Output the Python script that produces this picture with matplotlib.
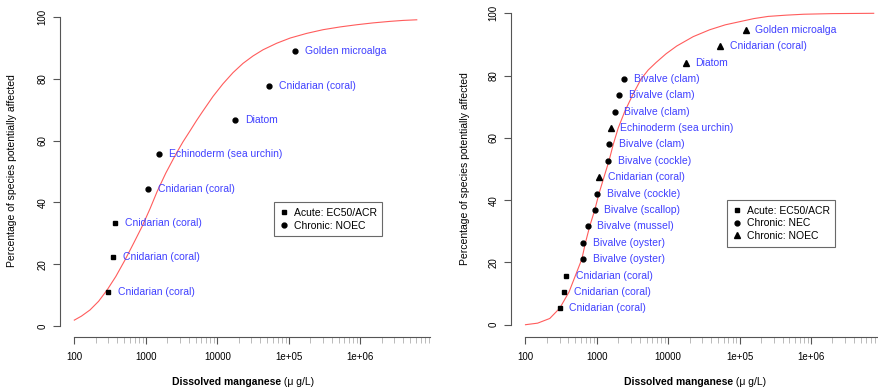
import numpy as np
import matplotlib.pyplot as plt
from matplotlib.lines import Line2D

plt.rcParams['font.family'] = ['Liberation Sans', 'DejaVu Sans']

# left panel (acute + chronic NOEC)
names_l = ['Cnidarian (coral)', 'Cnidarian (coral)', 'Cnidarian (coral)', 'Cnidarian (coral)',
           'Echinoderm (sea urchin)', 'Diatom', 'Cnidarian (coral)', 'Golden microalga']
conc_l = [300, 350, 370, 1080, 1550, 17700, 53300, 122000]
kind_l = ['acute', 'acute', 'acute', 'noec', 'noec', 'noec', 'noec', 'noec']
pct_l = [11.1, 22.2, 33.3, 44.4, 55.6, 66.7, 77.8, 88.9]

# fitted curve (log10 conc, %)
curve_logx_l = [2.00, 2.10, 2.22, 2.34, 2.46, 2.58, 2.71, 2.83, 2.95, 3.06, 3.16, 3.28, 3.42,
                3.52, 3.62, 3.71, 3.80, 3.94, 4.08, 4.22, 4.36, 4.50, 4.64, 4.83, 5.02, 5.25,
                5.48, 5.72, 5.95, 6.18, 6.42, 6.60, 6.79]
curve_pct_l = [1.9, 3.2, 5.2, 8.0, 11.7, 16.0, 21.4, 26.8, 32.3, 38.0, 43.6, 49.5, 55.6,
               59.6, 63.2, 66.5, 69.6, 74.3, 78.4, 82.0, 85.0, 87.4, 89.4, 91.5, 93.2, 94.7,
               95.9, 96.8, 97.5, 98.1, 98.6, 98.9, 99.1]

# right panel (acute + chronic NEC + chronic NOEC)
names_r = ['Cnidarian (coral)', 'Cnidarian (coral)', 'Cnidarian (coral)', 'Bivalve (oyster)',
           'Bivalve (oyster)', 'Bivalve (mussel)', 'Bivalve (scallop)', 'Bivalve (cockle)',
           'Cnidarian (coral)', 'Bivalve (cockle)', 'Bivalve (clam)', 'Echinoderm (sea urchin)',
           'Bivalve (clam)', 'Bivalve (clam)', 'Bivalve (clam)', 'Diatom', 'Cnidarian (coral)',
           'Golden microalga']
conc_r = [300, 350, 370, 640, 640, 740, 935, 1020, 1060, 1430, 1490, 1560, 1770, 2050, 2400,
          17700, 53600, 122000]
kind_r = ['acute', 'acute', 'acute', 'nec', 'nec', 'nec', 'nec', 'nec', 'noec', 'nec', 'nec',
          'noec', 'nec', 'nec', 'nec', 'noec', 'noec', 'noec']
pct_r = [5.3, 10.5, 15.8, 21.1, 26.3, 31.6, 36.8, 42.1, 47.4, 52.6, 57.9, 63.2, 68.4, 73.7,
         78.9, 84.2, 89.5, 94.7]

curve_logx_r = [2.00, 2.17, 2.34, 2.48, 2.61, 2.70, 2.79, 2.84, 2.90, 2.97, 3.03, 3.10, 3.17,
                3.23, 3.30, 3.39, 3.50, 3.62, 3.72, 3.83, 3.97, 4.12, 4.35, 4.58, 4.80, 5.00,
                5.20, 5.40, 5.65, 5.90, 6.30, 6.88]
curve_pct_r = [0.0, 0.5, 2.0, 5.3, 10.5, 15.8, 21.1, 26.3, 31.6, 36.8, 42.1, 47.4, 52.6,
               57.9, 63.2, 68.4, 73.7, 78.9, 81.8, 84.2, 87.0, 89.5, 92.5, 94.7, 96.3, 97.3,
               98.3, 99.0, 99.4, 99.7, 99.9, 100.0]

major_x = [1e2, 1e3, 1e4, 1e5, 1e6]
major_lab = ['100', '1000', '10000', '1e+05', '1e+06']
minor_x = [k * 10.0**n for n in range(2, 7) for k in range(2, 10)]

W, H = 879, 391
fig = plt.figure(figsize=(W / 100, H / 100), dpi=100)
axl = fig.add_axes([60 / W, 1 - 337 / H, 380 / W, 327 / H])
axr = fig.add_axes([511 / W, 1 - 336.7 / H, 368 / W, 326.7 / H])

blue = '#4040ff'
grey = '#555555'


def panel(ax, names, conc, kind, pct, cx, cy, marks, xlim, ylim, xend):
    ax.plot(10 ** np.array(cx), cy, color='#ff5c5c', lw=0.8)
    for n, c, k, p in zip(names, conc, kind, pct):
        ax.plot(c, p, ls='none', marker=marks[k], color='black',
                ms=4.2 if marks[k] == '^' else 3.5)
        ax.annotate(n, (c, p), xytext=(7, 0), textcoords='offset points',
                    va='center', ha='left', color=blue, fontsize=7.5)
    ax.set_xscale('log')
    ax.set_xlim(*xlim)
    ax.set_ylim(*ylim)
    for s in ['top', 'right']:
        ax.spines[s].set_visible(False)
    for s in ['left', 'bottom']:
        ax.spines[s].set_color(grey)
        ax.spines[s].set_linewidth(0.8)
    ax.spines['left'].set_bounds(0, 100)
    ax.spines['bottom'].set_bounds(100, xend)
    ax.set_yticks([0, 20, 40, 60, 80, 100], ['0', '20', '40', '60', '80', '100'],
                  rotation=90, va='center', fontsize=7)
    ax.set_xticks(major_x, major_lab, fontsize=7)
    ax.set_xticks(minor_x, minor=True)
    ax.xaxis.set_minor_formatter(plt.NullFormatter())
    ax.tick_params(which='major', length=5, width=0.8, color=grey)
    ax.tick_params(axis='x', which='major', pad=6)
    ax.tick_params(axis='y', which='major', pad=4)
    ax.tick_params(which='minor', length=4, width=0.6, color='#b0b0b0')
    ax.patch.set_visible(False)


panel(axl, names_l, conc_l, kind_l, pct_l, curve_logx_l, curve_pct_l,
      {'acute': 's', 'noec': 'o'}, (10**1.8, 10**7.115), (-3.56, 102.27), 9.5e6)
panel(axr, names_r, conc_r, kind_r, pct_r, curve_logx_r, curve_pct_r,
      {'acute': 's', 'nec': 'o', 'noec': '^'}, (10**1.797, 10**6.88), (-3.85, 101.06), 1e7)


def legend(ax, items, x, y):
    hs = [Line2D([], [], ls='none', marker=m, color='black', ms=3.5 if m != '^' else 4.2)
          for m, _ in items]
    lg = ax.legend(hs, [t for _, t in items], loc='upper left',
                   bbox_to_anchor=(x / W, 1 - y / H), bbox_transform=fig.transFigure,
                   borderaxespad=0, fancybox=False, fontsize=7.5, handlelength=0.8,
                   handletextpad=0.5, labelspacing=0.25, borderpad=0.55)
    lg.get_frame().set_edgecolor('#444444')
    lg.get_frame().set_linewidth(0.8)


legend(axl, [('s', 'Acute: EC50/ACR'), ('o', 'Chronic: NOEC')], 274.3, 202.3)
legend(axr, [('s', 'Acute: EC50/ACR'), ('o', 'Chronic: NEC'), ('^', 'Chronic: NOEC')], 727.3, 200)

ylab = 'Percentage of species potentially affected'
fig.text(12 / W, 1 - 171 / H, ylab, rotation=90, va='center', ha='center', fontsize=7.5)
fig.text(465 / W, 1 - 169 / H, ylab, rotation=90, va='center', ha='center', fontsize=7.5)

for ax, x0 in [(axl, 172), (axr, 624.3)]:
    t = fig.text(x0 / W, 1 - 381.7 / H, 'Dissolved manganese', fontweight='bold',
                 fontsize=7.5, va='center', ha='left')
    ax.annotate(' (\u03bc g/L)', xy=(1, 0), xycoords=t, va='bottom', ha='left', fontsize=7.5)

fig.savefig('out.png', dpi=100)
